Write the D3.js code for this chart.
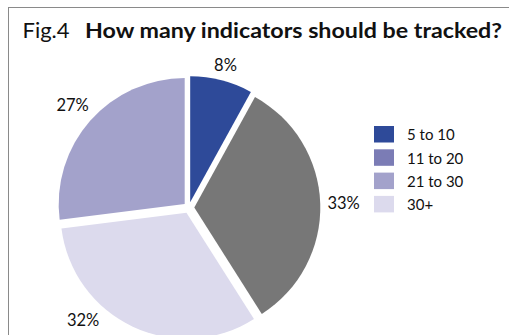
<!DOCTYPE html>
<html>
<head>
<meta charset="utf-8">
<script src="https://cdn.jsdelivr.net/npm/d3@7"></script>
<style>
  html, body { margin: 0; padding: 0; background: #fff; }
  svg { display: block; font-family: Lato, "Open Sans", sans-serif; }
</style>
</head>
<body>
<svg id="chart" width="509" height="335"></svg>
<script>
// Fig.4 pie: how many indicators should be tracked

const categories = ['5 to 10', '11 to 20', '21 to 30', '30+'];
const shares = [8, 33, 32, 27];            // slice order, clockwise from 12 o'clock
const sliceLabels = ['8%', '33%', '32%', '27%'];
const sliceColors = ['#2e4a99', '#777777', '#dcdaed', '#a3a2cb'];
const legendColors = ['#2e4a99', '#7b7cb5', '#a3a2cb', '#dcdaed'];

const svg = d3.select('#chart');
const width = +svg.attr('width');
const height = +svg.attr('height');

// frame (runs off the right and bottom edges)
svg.append('rect')
    .attr('x', 8.5).attr('y', 7.5)
    .attr('width', width + 20).attr('height', height + 20)
    .attr('fill', 'none')
    .attr('stroke', '#8a8a8a')
    .attr('stroke-width', 1);

// title
svg.append('text')
    .attr('x', 22.5).attr('y', 37.7)
    .attr('font-size', 21)
    .attr('fill', '#111')
    .attr('textLength', 47).attr('lengthAdjust', 'spacingAndGlyphs')
    .text('Fig.4');
svg.append('text')
    .attr('x', 85).attr('y', 37.7)
    .attr('font-size', 21)
    .attr('font-weight', 'bold')
    .attr('fill', '#111')
    .attr('textLength', 417).attr('lengthAdjust', 'spacingAndGlyphs')
    .text('How many indicators should be tracked?');

// pie
const cx = 188.8, cy = 207.7;
const radius = 126;
const explode = 5.5;

const pie = d3.pie().sort(null).value(d => d);
const arc = d3.arc().innerRadius(0).outerRadius(radius);
const arcs = pie(shares);
const midAngle = d => (d.startAngle + d.endAngle) / 2;

const g = svg.append('g').attr('transform', `translate(${cx},${cy})`);

g.selectAll('path.slice')
    .data(arcs)
    .enter().append('path')
    .attr('class', 'slice')
    .attr('d', arc)
    .attr('fill', (d, i) => sliceColors[i])
    .attr('transform', d => {
        const a = midAngle(d);
        return `translate(${explode * Math.sin(a)},${-explode * Math.cos(a)})`;
    });

// outside-end labels, rotated round the pie if they would fall off the frame
const labelSize = 16.5;
const labelH = 13;
const pad = 7;
const labels = g.selectAll('text.pct')
    .data(arcs)
    .enter().append('text')
    .attr('class', 'pct')
    .attr('font-size', labelSize)
    .attr('fill', '#111')
    .attr('text-anchor', 'middle')
    .attr('dominant-baseline', 'central')
    .text((d, i) => sliceLabels[i]);

labels.each(function (d) {
    const w = this.getComputedTextLength();
    const place = a => {
        const s = Math.sin(a), c = -Math.cos(a);
        const dist = radius + explode + pad + Math.abs(s) * w / 2 + Math.abs(c) * labelH / 2;
        return [dist * s, dist * c];
    };
    let a = midAngle(d);
    let p = place(a);
    const maxY = height - 8 - cy - labelH / 2;
    const step = (a > Math.PI ? 1 : -1) * 0.005;
    let guard = 0;
    while (p[1] > maxY && guard++ < 400) {
        a += step;
        p = place(a);
    }
    d3.select(this).attr('x', p[0]).attr('y', p[1]);
});

// legend
const legend = svg.append('g').attr('transform', 'translate(374,126)');
const rowH = 23.3;
const item = legend.selectAll('g')
    .data(categories)
    .enter().append('g')
    .attr('transform', (d, i) => `translate(0,${i * rowH})`);

item.append('rect')
    .attr('width', 20).attr('height', 16.5)
    .attr('fill', (d, i) => legendColors[i]);

item.append('text')
    .attr('x', 33).attr('y', 8.3)
    .attr('dominant-baseline', 'central')
    .attr('font-size', 15)
    .attr('fill', '#111')
    .text(d => d);
</script>
</body>
</html>
